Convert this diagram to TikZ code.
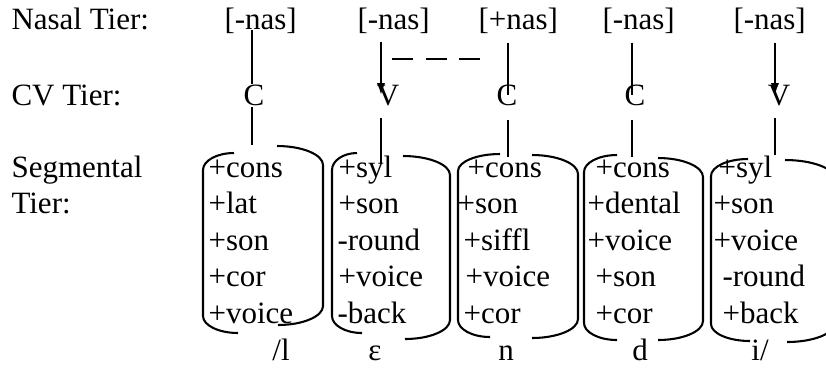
\documentclass[12pt,tikz,border=0pt]{standalone}
\usepackage{fontspec}
\setmainfont{Liberation Serif}
\usetikzlibrary{arrows.meta}

\tikzset{
  tier/.style={inner sep=0pt, anchor=base west},
  nas/.style={inner sep=0pt, anchor=base west},
  cv/.style={inner sep=0pt, anchor=base},
  feat/.style={inner sep=0pt, anchor=base west},
  seg/.style={inner sep=0pt, anchor=base},
  assoc/.style={line width=0.8pt},
  tip/.style={-{Latex[length=4.6pt,width=3.2pt]}},
  spread/.style={line width=0.8pt, dash pattern=on 8.2pt off 4.8pt},
  brack/.style={line width=0.8pt}
}

% #1 top end x, #2 top y, #3 side x, #4 bottom end x, #5 bottom y, #6 bend
\newcommand{\segbrack}[6]{%
  \draw[brack] (#1,#2) .. controls ({#3+0.45*(#1-#3)},#2) and (#3,{#2+0.45*#6}) .. (#3,{#2+#6})
    -- (#3,{#5-#6}) .. controls (#3,{#5-0.45*#6}) and ({#3+0.45*(#4-#3)},#5) .. (#4,#5);}

\begin{document}
\begin{tikzpicture}[x=0.3871pt, y=-0.3871pt]
    \useasboundingbox (0,0) rectangle (826,367);
    \clip (0,0) rectangle (826,367);

    % tier names
    \node[tier] (nastier) at (11,29) {Nasal Tier:};
    \node[tier] (cvtier) at (11,105) {CV Tier:};
    \node[tier] (segtier) at (11,177) {Segmental};
    \node[tier] (segtier2) at (11,213.6) {Tier:};

    % nasal tier
    \node[nas] (n1) at (224,29) {[-nas]};
    \node[nas] (n2) at (357,29) {[-nas]};
    \node[nas] (n3) at (478,29) {[+nas]};
    \node[nas] (n4) at (602,29) {[-nas]};
    \node[nas] (n5) at (733,29) {[-nas]};

    % CV tier
    \node[cv] (cv1) at (254,105) {C};
    \node[cv] (cv2) at (388,105) {V};
    \node[cv] (cv3) at (507,105) {C};
    \node[cv] (cv4) at (635,105) {C};
    \node[cv] (cv5) at (779,105) {V};

    % tops of the segment columns
    \coordinate (s1) at (252,145);
    \coordinate (s2) at (381,163);
    \coordinate (s3) at (508,157);
    \coordinate (s4) at (632,157);
    \coordinate (s5) at (775,155);

    % association lines
    \draw[assoc, shorten <=-1.5pt] (s1 |- n1.south) -- (s1 |- cv1.north);
    \draw[assoc, tip, shorten <=3.1pt] (s2 |- n2.south) -- (s2 |- cv2.center);
    \draw[assoc, shorten <=3.5pt] (s3 |- n3.south) -- (s3 |- cv3.center);
    \draw[assoc, shorten <=3.5pt] (s4 |- n4.south) -- (s4 |- cv4.center);
    \draw[assoc, tip, shorten <=3.5pt] (s5 |- n5.south) -- (s5 |- cv5.center);

    \draw[assoc, shorten <=0.6pt] (s1 |- cv1.south) -- (s1);
    \draw[assoc, shorten <=4.5pt] (s2 |- cv2.south) -- (s2);
    \draw[assoc, shorten <=5.6pt] (s3 |- cv3.south) -- (s3);
    \draw[assoc, shorten <=5.6pt] (s4 |- cv4.south) -- (s4);
    \draw[assoc, shorten <=4.5pt] (s5 |- cv5.south) -- (s5);

    % spreading of [+nas]
    \coordinate (d1) at (392,59);
    \coordinate (d2) at (481,59);
    \draw[spread] (d1) -- (d2);

    % segment columns
    \segbrack{234}{153}{203}{238}{333}{17}
    \segbrack{277}{146}{323}{278}{325}{19}
    \node[feat] (l1) at (208,177) {+cons};
    \node[feat] (l2) at (208,213.6) {+lat};
    \node[feat] (l3) at (208,250.2) {+son};
    \node[feat] (l4) at (208,286.8) {+cor};
    \node[feat] (l5) at (208,323.4) {+voice};

    \segbrack{357}{153}{332}{362}{333}{17}
    \segbrack{403}{156}{450}{405}{339}{19}
    \node[feat] (e1) at (338,177) {+syl};
    \node[feat] (e2) at (338,213.6) {+son};
    \node[feat] (e3) at (337,250.2) {-round};
    \node[feat] (e4) at (338,286.8) {+voice};
    \node[feat] (e5) at (337,323.4) {-back};

    \segbrack{500}{154}{458}{490}{337}{17}
    \segbrack{532}{155}{578}{532}{338}{19}
    \node[feat] (m1) at (467,177) {+cons};
    \node[feat] (m2) at (457,213.6) {+son};
    \node[feat] (m3) at (463,250.2) {+siffl};
    \node[feat] (m4) at (465,286.8) {+voice};
    \node[feat] (m5) at (463,323.4) {+cor};

    \segbrack{617}{155}{584}{617}{340}{17}
    \segbrack{658}{158}{703}{658}{340}{19}
    \node[feat] (d1f) at (595,177) {+cons};
    \node[feat] (d2f) at (587,213.6) {+dental};
    \node[feat] (d3f) at (587,250.2) {+voice};
    \node[feat] (d4f) at (595,286.8) {+son};
    \node[feat] (d5f) at (595,323.4) {+cor};

    \segbrack{748}{159}{711}{750}{341}{17}
    \segbrack{785}{160}{835}{787}{342}{19}
    \node[feat] (i1) at (718,177) {+syl};
    \node[feat] (i2) at (713,213.6) {+son};
    \node[feat] (i3) at (713,250.2) {+voice};
    \node[feat] (i4) at (722,286.8) {-round};
    \node[feat] (i5) at (722,323.4) {+back};

    % segments
    \node[seg] (g1) at (281,360) {/l};
    \node[seg] (g2) at (375,360) {ε};
    \node[seg] (g3) at (506,360) {n};
    \node[seg] (g4) at (640,360) {d};
    \node[seg] (g5) at (760,360) {i/};
\end{tikzpicture}
\end{document}
